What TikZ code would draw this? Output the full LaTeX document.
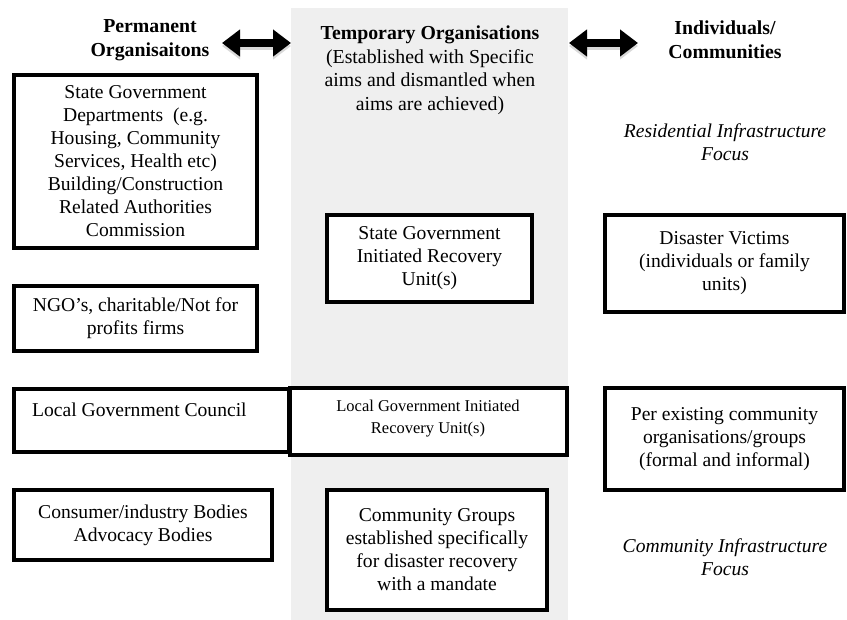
\documentclass[tikz,border=0pt]{standalone}
\usepackage{fontspec}
\setmainfont{Liberation Serif}
\usetikzlibrary{arrows.meta,shadows}
\definecolor{bandgray}{HTML}{EFEFEF}
\tikzset{
  box/.style={draw=black, line width=3.3pt, fill=white, inner sep=0pt,
    drop shadow={shadow xshift=1.5pt, shadow yshift=-1.5pt, opacity=0.25}},
  txt/.style={align=center, inner sep=0pt,
    font=\fontsize{19.6}{23}\selectfont},
  head/.style={align=center, inner sep=0pt,
    font=\fontsize{19.8}{23.5}\selectfont\bfseries},
  focus/.style={align=center, inner sep=0pt,
    font=\fontsize{19.6}{23}\selectfont\itshape},
  fatarrow/.style={line width=8pt,
    {Triangle[length=18pt,width=26pt]}-{Triangle[length=18pt,width=26pt]}}
}
\newcommand{\boxat}[5]{% name, x0, y0, x1, y1
  \node[box, minimum width={#4-#2}, minimum height={#5-#3}]
    (#1) at ({(#2+#4)/2},{(#3+#5)/2}) {};}
\begin{document}
\begin{tikzpicture}[x=1pt,y=-1pt]
  \useasboundingbox (0,0) rectangle (847,620);
  % shaded column for temporary organisations
  \fill[bandgray] (291,8) rectangle (568,620);

  % column headings
  \node[head] (perm) at (150,40) {Permanent\\Organisaitons};
  \node[head] (temp) at (430,70) {Temporary Organisations\\
    \mdseries(Established with Specific\\
    \mdseries aims and dismantled when\\
    \mdseries aims are achieved)};
  \node[head] (indiv) at (725,40) {Individuals/\\Communities};
  \coordinate (la) at (222,43);
  \coordinate (lb) at (291,43);
  \coordinate (ra) at (569,43);
  \coordinate (rb) at (638,43);
  \draw[fatarrow, black!25, opacity=0.6] ([yshift=-3pt]la) -- ([yshift=-3pt]lb);
  \draw[fatarrow, black!25, opacity=0.6] ([yshift=-3pt]ra) -- ([yshift=-3pt]rb);
  \draw[fatarrow] (la) -- (lb);
  \draw[fatarrow] (ra) -- (rb);

  % permanent organisations
  \boxat{sgd}{14}{75}{257}{248}
  \node[txt] at (sgd) {State Government\\Departments~ (e.g.\\Housing, Community\\
    Services, Health etc)\\Building/Construction\\Related Authorities\\Commission};
  \boxat{ngo}{14}{286}{257}{351}
  \node[txt] at (ngo) {NGO's, charitable/Not for\\profits firms};
  \boxat{lgc}{14}{389}{289}{452}
  \node[txt, anchor=west] (lgct) at (32,410) {Local Government Council};
  \boxat{cib}{14}{490}{272}{560}
  \node[txt] at (cib) {Consumer/industry Bodies\\Advocacy Bodies};

  % temporary organisations
  \boxat{sgr}{327}{215}{532}{302}
  \node[txt] at (sgr) {State Government\\Initiated Recovery\\Unit(s)};
  \boxat{lgr}{290}{388}{567}{455}
  \node[txt, font=\fontsize{16.5}{22}\selectfont] at (428,419)
    {Local Government Initiated\\Recovery Unit(s)};
  \boxat{cgd}{327}{490}{547}{610}
  \node[txt] at (cgd) {Community Groups\\established specifically\\
    for disaster recovery\\with a mandate};

  % individuals and communities
  \node[focus] (rif) at (725,142) {Residential Infrastructure\\Focus};
  \boxat{dv}{605}{215}{844}{312}
  \node[txt] at (dv) {Disaster Victims\\(individuals or family\\units)};
  \boxat{pec}{605}{388}{844}{490}
  \node[txt] at (pec) {Per existing community\\organisations/groups\\
    (formal and informal)};
  \node[focus] (cif) at (725,557) {Community Infrastructure\\Focus};
\end{tikzpicture}
\end{document}
